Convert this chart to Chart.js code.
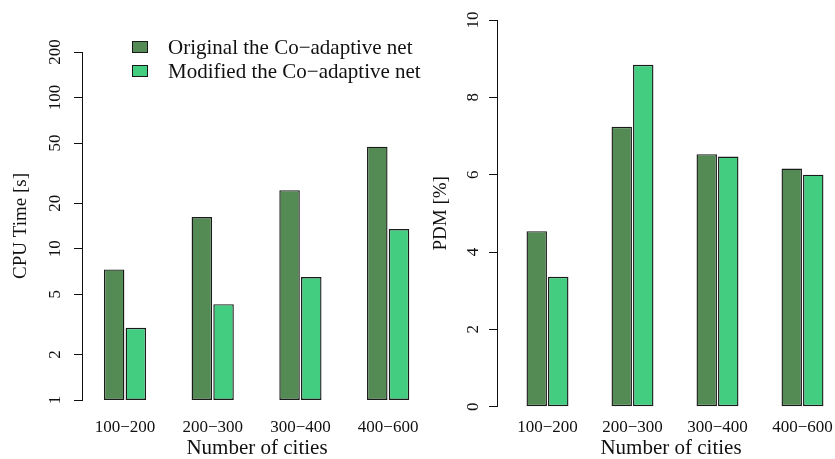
<!DOCTYPE html>
<html>
<head>
<meta charset="utf-8">
<script src="https://cdn.jsdelivr.net/npm/chart.js@4/dist/chart.umd.min.js"></script>
<style>
html,body{margin:0;padding:0;width:835px;height:459px;overflow:hidden;background:#fff;}
#left{position:absolute;left:0;top:0;}
#right{position:absolute;left:420px;top:0;}
#legend{position:absolute;left:132px;top:35px;font-family:"Liberation Serif",serif;font-size:21px;color:#111;}
.item{display:flex;align-items:center;height:24px;white-space:nowrap;}
.sw{width:14px;height:10px;border:1px solid #1a1a1a;margin-right:20px;}
</style>
</head>
<body>
<canvas id="left" width="440" height="459"></canvas>
<canvas id="right" width="430" height="459"></canvas>
<div id="legend"></div>
<script>
// ---- data ----
const categories = ['100\u2212200', '200\u2212300', '300\u2212400', '400\u2212600'];
const seriesNames = ['Original the Co\u2212adaptive net', 'Modified the Co\u2212adaptive net'];
const cpuOriginal = [7.3, 16.2, 24.4, 47.3];
const cpuModified = [3.0, 4.3, 6.5, 13.5];
const pdmOriginal = [4.54, 7.24, 6.53, 6.16];
const pdmModified = [3.36, 8.84, 6.47, 6.00];
const cpuTicks = [1, 2, 5, 10, 20, 50, 100, 200];
const pdmTicks = [0, 2, 4, 6, 8, 10];
const colors = ['#548B54', '#43CD80'];

const FONT = '"Liberation Serif", "Times New Roman", serif';
const TXT = '#111';

function toXY(arr) { return arr.map((v, i) => ({x: i, y: v})); }

function makeDatasets(a, b, cp, bp) {
  return [a, b].map((arr, k) => ({
    label: seriesNames[k],
    data: toXY(arr),
    backgroundColor: colors[k],
    borderColor: '#1a1a1a',
    borderWidth: 1.4,
    borderSkipped: false,
    categoryPercentage: cp,
    barPercentage: bp
  }));
}

function xScale(min, max, pad, h) {
  return {
    type: 'linear', min: min, max: max, offset: false,
    grid: {display: false, drawTicks: false, offset: false},
    border: {display: false},
    afterBuildTicks: s => { s.ticks = categories.map((c, i) => ({value: i})); },
    afterFit: s => { s.height = h; },
    ticks: {padding: pad, color: TXT, font: {family: FONT, size: 17}, callback: v => categories[v] ?? ''},
    title: {display: true, text: 'Number of cities', color: TXT, font: {family: FONT, size: 21, lineHeight: 1.0}, padding: {top: 0, bottom: 0}}
  };
}

function yScale(extra, w, ticksArr, pad, title) {
  return Object.assign({
    grid: {display: true, drawOnChartArea: false, drawTicks: true, tickLength: 8, color: '#111', tickColor: '#111', tickWidth: 1},
    border: {display: true, color: '#111', width: 1},
    afterBuildTicks: s => { s.ticks = ticksArr.map(v => ({value: v})); },
    afterFit: s => { s.width = w; },
    ticks: {padding: pad, minRotation: 90, maxRotation: 90, crossAlign: 'center', color: TXT, font: {family: FONT, size: 17}, callback: v => String(v)},
    title: {display: true, text: title, color: TXT, font: {family: FONT, size: 19}, padding: {top: 10, bottom: 0}}
  }, extra);
}

const common = {
  responsive: false, animation: false, devicePixelRatio: 1,
  plugins: {legend: {display: false}, tooltip: {enabled: false}}
};

new Chart(document.getElementById('left'), {
  type: 'bar',
  data: {datasets: makeDatasets(cpuOriginal, cpuModified, 0.495, 0.945)},
  options: Object.assign({}, common, {
    layout: {padding: {top: 52, right: 8, left: 0, bottom: 0}},
    scales: {
      x: xScale(-0.49, 3.5, 17, 59),
      y: yScale({type: 'logarithmic', min: 1, max: 200}, 82, cpuTicks, 6, 'CPU Time [s]')
    }
  })
});

new Chart(document.getElementById('right'), {
  type: 'bar',
  data: {datasets: makeDatasets(pdmOriginal, pdmModified, 0.506, 0.95)},
  options: Object.assign({}, common, {
    layout: {padding: {top: 20, right: 5, left: 0, bottom: 0}},
    scales: {
      x: xScale(-0.594, 3.5, 11, 52.3),
      y: yScale({type: 'linear', min: 0, max: 10}, 77, pdmTicks, 7, 'PDM [%]')
    }
  })
});

// legend (HTML, built from series names and colours)
const lg = document.getElementById('legend');
seriesNames.forEach((name, k) => {
  const row = document.createElement('div'); row.className = 'item';
  const sw = document.createElement('span'); sw.className = 'sw'; sw.style.background = colors[k];
  const tx = document.createElement('span'); tx.textContent = name;
  row.appendChild(sw); row.appendChild(tx); lg.appendChild(row);
});
</script>
</body>
</html>
